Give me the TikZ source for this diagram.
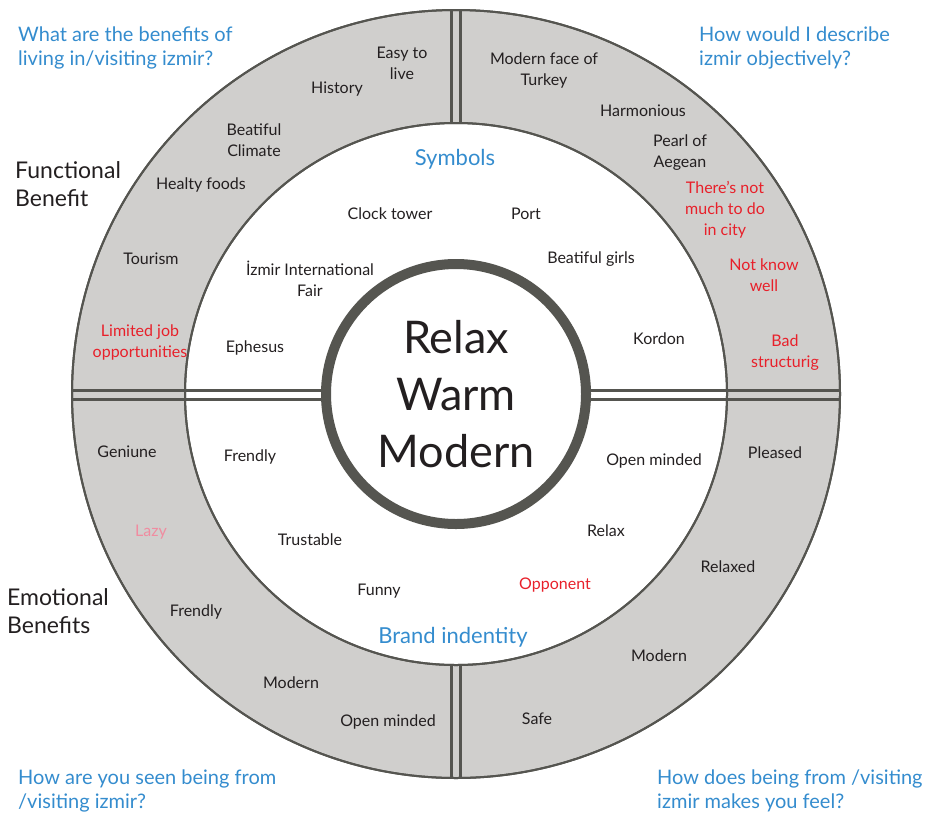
\documentclass[tikz,border=0pt]{standalone}
\usepackage{fontspec}
\setmainfont{Lato}
\definecolor{ringgray}{RGB}{208,207,205}
\definecolor{linegray}{RGB}{85,85,80}
\definecolor{qblue}{RGB}{52,140,206}
\definecolor{negred}{RGB}{232,32,42}
\definecolor{lazypink}{RGB}{240,140,160}
\definecolor{inkblack}{RGB}{35,31,32}
\tikzset{
  word/.style={align=center,text=inkblack,inner sep=0pt,font=\fontsize{16}{21}\selectfont},
  badword/.style={word,text=negred},
  question/.style={align=left,anchor=north west,text=qblue,inner sep=0pt,font=\fontsize{20}{24}\selectfont},
  heading/.style={align=left,anchor=north west,text=inkblack,inner sep=0pt,font=\fontsize{23}{28}\selectfont},
  title/.style={text=qblue,inner sep=0pt,font=\fontsize{22}{26}\selectfont},
  divider/.style={draw=linegray,line width=3pt}
}
\begin{document}
\begin{tikzpicture}[x=1pt,y=-1pt]
\useasboundingbox (0,0) rectangle (928,814);
\filldraw[fill=ringgray,draw=linegray,line width=2pt,even odd rule] (456,394) circle (384pt) (456,394) circle (271pt);
\draw[divider] (451.5,10) -- (451.5,123);
\draw[divider] (460.5,10) -- (460.5,123);
\draw[divider] (451.5,665) -- (451.5,778);
\draw[divider] (460.5,665) -- (460.5,778);
\node[circle,draw=linegray,fill=white,line width=10pt,minimum size=260pt,inner sep=0pt,align=center,
  font=\fontsize{45}{57}\selectfont,text=inkblack] (core) at (456,394) {Relax\\Warm\\Modern};
\draw[divider] (72,390) -- (core.west |- 0,390);
\draw[divider] (72,399) -- (core.west |- 0,399);
\draw[divider] (core.east |- 0,390) -- (840,390);
\draw[divider] (core.east |- 0,399) -- (840,399);
\draw[draw=linegray,line width=2pt] (456,394) circle (271pt);
\draw[draw=linegray,line width=2pt] (456,394) circle (384pt);

\node[question] (q-benefit) at (18,27) {What are the benefits of\\living in/visiting izmir?};
\node[question] (q-describe) at (699,27) {How would I describe\\izmir objectively?};
\node[question] (q-seen) at (18,770) {How are you seen being from\\/visiting izmir?};
\node[question] (q-feel) at (657,770) {How does being from /visiting\\izmir makes you feel?};
\node[heading] (functional) at (15,161) {Functional\\Benefit};
\node[heading] (emotional) at (7,588) {Emotional\\Benefits};

\node[word] (easy) at (402,63) {Easy to\\live};
\node[word] (history) at (337,89) {History};
\node[word] (climate) at (254,140) {Beatiful\\Climate};
\node[word] (foods) at (201,185) {Healty foods};
\node[word] (tourism) at (151,259) {Tourism};
\node[badword] (jobs) at (140,342) {Limited job\\opportunities};
\node[word] (face) at (544,70) {Modern face of\\Turkey};
\node[word] (harmonious) at (643,111) {Harmonious};
\node[word] (pearl) at (680,153) {Pearl of\\Aegean};
\node[badword] (nothing) at (725,210) {There's not\\much to do\\in city};
\node[badword] (unknown) at (764,275) {Not know\\well};
\node[badword] (structure) at (785,353) {Bad\\structurig};
\node[word] (genuine) at (127,452) {Geniune};
\node[word,text=lazypink] (lazy) at (151,532) {Lazy};
\node[word] (friendly-out) at (196,612) {Frendly};
\node[word] (modern-left) at (291,683) {Modern};
\node[word] (open-out) at (388,722) {Open minded};
\node[word] (pleased) at (775,453) {Pleased};
\node[word] (relaxed) at (728,567) {Relaxed};
\node[word] (modern-right) at (659,656) {Modern};
\node[word] (safe) at (537,719) {Safe};

\node[title] (symbols) at (455,159) {Symbols};
\node[word] (clock) at (390,214) {Clock tower};
\node[word] (port) at (526,214) {Port};
\node[word] (girls) at (591,259) {Beatiful girls};
\node[word] (fair) at (310,279) {İzmir International\\Fair};
\node[word] (ephesus) at (255,348) {Ephesus};
\node[word] (kordon) at (659,339) {Kordon};
\node[word] (friendly-in) at (250,457) {Frendly};
\node[word] (open-in) at (654,461) {Open minded};
\node[word] (trustable) at (310,540) {Trustable};
\node[word] (relax) at (606,531) {Relax};
\node[word] (funny) at (379,591) {Funny};
\node[badword] (opponent) at (555,585) {Opponent};
\node[title] (brand) at (453,637) {Brand indentity};
\end{tikzpicture}
\end{document}
